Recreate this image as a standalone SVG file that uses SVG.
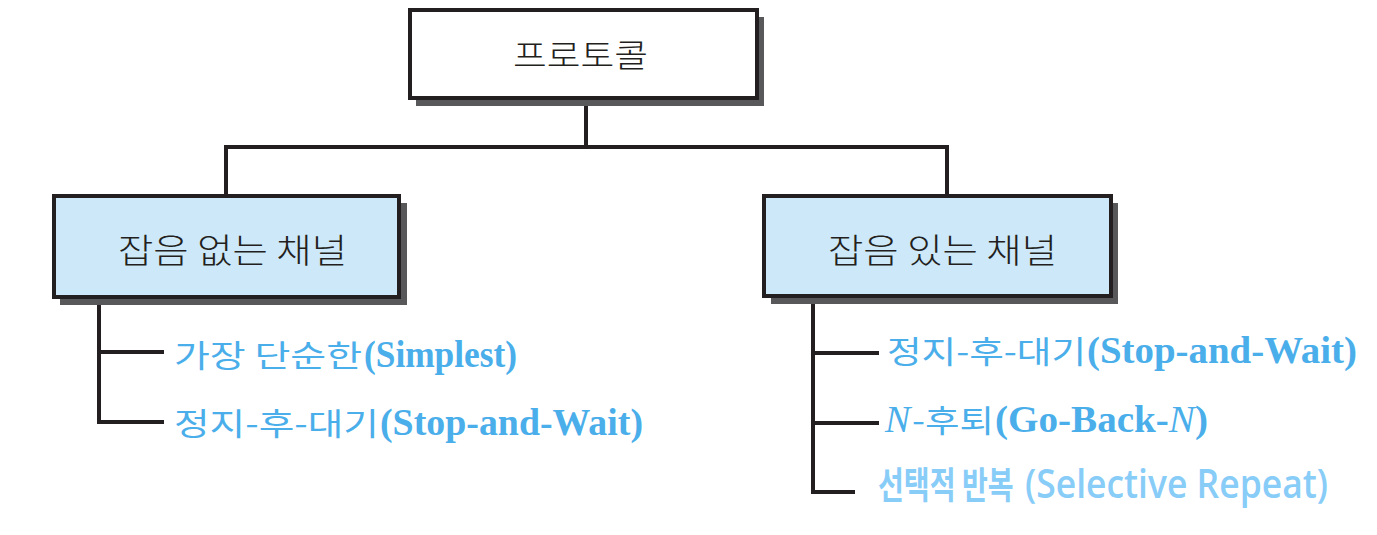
<svg xmlns="http://www.w3.org/2000/svg" width="1377" height="535" viewBox="0 0 1377 535">
<style>
.box{stroke:#231f20;stroke-width:4}
.shadow{fill:#58585a}
.ln{stroke:#231f20;stroke-width:4;fill:none;stroke-linecap:square}
.title{font-family:"Noto Sans CJK KR",sans-serif;font-weight:300;fill:#231f20}
.lbl{fill:#4aaeea}
.ko{font-family:"Noto Sans CJK KR",sans-serif;font-size:31px}
.la{font-family:"Liberation Serif","Noto Sans CJK KR",serif;font-weight:bold;font-size:38px}
.it{font-style:italic;font-weight:normal}
.lbl3{fill:#88ccf8}
.ko3{font-family:"Noto Sans CJK KR",sans-serif;font-weight:bold;font-size:37px}
.la3{font-family:"Open Sans","Noto Sans CJK KR",sans-serif;font-weight:600;font-size:40px}
</style>
<g id="connectors">
<path class="ln" d="M586 100 V147 M226 147 H947 M226 147 V194 M947 147 V194"/>
<path class="ln" d="M99 306 V422 M99 352 H162 M99 422 H162"/>
<path class="ln" d="M813 306 V492 M813 353 H877 M813 423 H877 M813 492 H853"/>
</g>
<g id="protocol">
<rect class="shadow" x="416" y="17" width="348" height="89"/>
<rect class="box" x="410" y="10" width="347" height="88" fill="#ffffff"/>
<text class="title" x="513" y="67" font-size="32" textLength="135" lengthAdjust="spacingAndGlyphs">프로토콜</text>
</g>
<g id="noiseless">
<rect class="shadow" x="60" y="203" width="347" height="102"/>
<rect class="box" x="54" y="196" width="345" height="101" fill="#cde8f8"/>
<text class="title" x="118" y="263" font-size="34" textLength="229" lengthAdjust="spacingAndGlyphs">잡음 없는 채널</text>
</g>
<g id="noisy">
<rect class="shadow" x="771" y="203" width="347" height="101"/>
<rect class="box" x="764" y="196" width="347" height="100" fill="#cde8f8"/>
<text class="title" x="828" y="263" font-size="34" textLength="229" lengthAdjust="spacingAndGlyphs">잡음 있는 채널</text>
</g>
<g id="simplest">
<text class="lbl" y="367"><tspan class="ko" x="174" textLength="188" lengthAdjust="spacingAndGlyphs">가장 단순한</tspan><tspan class="la" x="364" textLength="153" lengthAdjust="spacingAndGlyphs">(Simplest)</tspan></text>
</g>
<g id="stopwait1">
<text class="lbl" y="435"><tspan class="ko" x="174" textLength="205" lengthAdjust="spacingAndGlyphs">정지-후-대기</tspan><tspan class="la" x="380" textLength="263" lengthAdjust="spacingAndGlyphs">(Stop-and-Wait)</tspan></text>
</g>
<g id="stopwait2">
<text class="lbl" y="363"><tspan class="ko" x="887" textLength="199" lengthAdjust="spacingAndGlyphs">정지-후-대기</tspan><tspan class="la" x="1087" textLength="270" lengthAdjust="spacingAndGlyphs">(Stop-and-Wait)</tspan></text>
</g>
<g id="gobackn">
<text class="lbl" y="432"><tspan class="la it" x="885">N</tspan><tspan class="ko" x="912" textLength="82" lengthAdjust="spacingAndGlyphs">-후퇴</tspan><tspan class="la" x="995" textLength="213" lengthAdjust="spacingAndGlyphs">(Go-Back-<tspan class="it">N</tspan>)</tspan></text>
</g>
<g id="selective">
<text class="lbl3 ko3" transform="translate(878 499) scale(0.76 1)" x="0" y="0">선택적 반복</text>
<text class="lbl3 la3" x="1025" y="498" textLength="303" lengthAdjust="spacingAndGlyphs">(Selective Repeat)</text>
</g>
</svg>
